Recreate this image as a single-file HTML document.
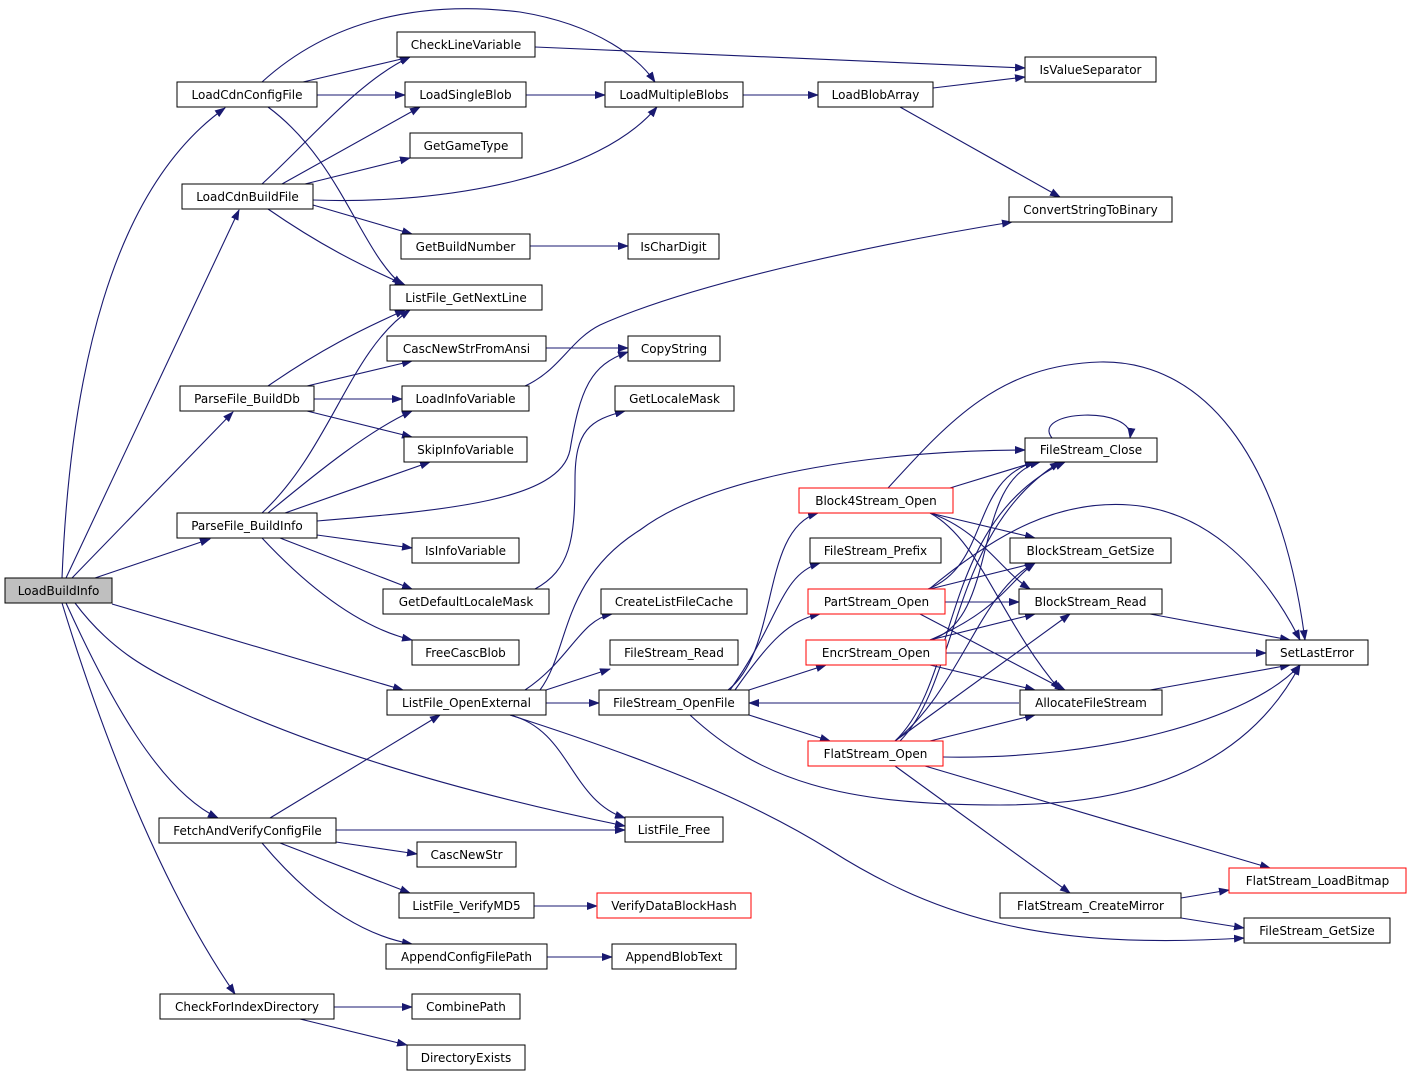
<!DOCTYPE html>
<html><head><meta charset="utf-8"><style>
html,body{margin:0;padding:0;background:#fff}
svg{display:block}
text{font-family:"DejaVu Sans","Liberation Sans",sans-serif;font-size:12px;fill:#000;text-anchor:middle}
.n{fill:#fff;stroke:#000;stroke-width:1}
.r{fill:#fff;stroke:#ff0000;stroke-width:1}
path{fill:none;stroke:#191970;stroke-width:1.1;marker-end:url(#a)}
</style></head><body>
<svg width="1412" height="1077" viewBox="0 0 1412 1077" xmlns="http://www.w3.org/2000/svg">
<defs><marker id="a" markerWidth="11" markerHeight="8" refX="10" refY="4" orient="auto" markerUnits="userSpaceOnUse"><polygon points="0,0 11,4 0,8" fill="#191970"/></marker></defs>
<!-- edges -->
<path d="M62,578 C70,380 110,190 225,108"/>
<path d="M66,578 L239,210"/>
<path d="M72,578 L233,412"/>
<path d="M95,578 L210,539"/>
<path d="M112,604 L403,690"/>
<path d="M75,603 C110,650 150,670 170,680 C300,745 450,790 625,826"/>
<path d="M66,603 C110,700 160,790 218,818"/>
<path d="M62,603 C110,760 170,900 235,994"/>
<path d="M303,82 L410,57"/>
<path d="M317,95 L405,95"/>
<path d="M262,82 C330,20 420,0 520,12 C600,25 640,60 655,82"/>
<path d="M268,107 C340,160 360,250 402,285"/>
<path d="M262,184 C310,140 360,80 410,57"/>
<path d="M282,184 L420,107"/>
<path d="M305,184 L410,158"/>
<path d="M313,200 C450,205 600,175 657,107"/>
<path d="M313,205 L412,234"/>
<path d="M268,209 C320,245 360,265 405,285"/>
<path d="M268,386 C320,350 360,330 405,310"/>
<path d="M307,386 L412,361"/>
<path d="M314,399 L402,399"/>
<path d="M307,411 L412,437"/>
<path d="M262,513 C330,450 350,350 410,310"/>
<path d="M268,513 C320,470 370,430 412,411"/>
<path d="M285,513 L430,462"/>
<path d="M317,521 C450,510 560,500 570,450 C580,390 590,365 628,352"/>
<path d="M317,535 L412,548"/>
<path d="M280,538 L412,589"/>
<path d="M262,538 C320,600 370,630 412,640"/>
<path d="M530,246 L628,246"/>
<path d="M546,348 L628,348"/>
<path d="M525,386 C560,370 570,340 600,325 C700,280 900,240 1012,222"/>
<path d="M535,589 C570,570 575,540 575,480 C575,430 590,420 625,411"/>
<path d="M535,47 L1025,68"/>
<path d="M526,95 L605,95"/>
<path d="M743,95 L818,95"/>
<path d="M933,88 L1025,77"/>
<path d="M900,107 L1060,197"/>
<path d="M540,690 C570,650 560,580 640,530 C720,470 900,450 1025,450"/>
<path d="M525,690 C570,660 580,620 612,614"/>
<path d="M546,690 L610,669"/>
<path d="M546,703 L599,703"/>
<path d="M510,715 C570,730 570,800 625,818"/>
<path d="M510,715 C650,760 750,800 830,850 C940,920 1050,950 1244,938"/>
<path d="M270,818 L440,715"/>
<path d="M336,830 L625,830"/>
<path d="M336,842 L417,854"/>
<path d="M280,843 L410,893"/>
<path d="M262,843 C310,900 360,935 412,944"/>
<path d="M534,906 L597,906"/>
<path d="M547,957 L612,957"/>
<path d="M334,1007 L412,1007"/>
<path d="M300,1019 L407,1045"/>
<path d="M728,690 C780,650 760,530 818,513"/>
<path d="M730,690 C780,620 780,575 820,563"/>
<path d="M735,690 C770,640 790,620 820,614"/>
<path d="M749,690 L826,665"/>
<path d="M749,715 L830,741"/>
<path d="M690,715 C760,780 840,805 1000,805 C1150,805 1250,760 1300,665"/>
<path d="M1019,703 L749,703"/>
<path d="M950,488 L1035,462"/>
<path d="M930,513 L1035,538"/>
<path d="M930,513 C980,530 1000,570 1030,589"/>
<path d="M930,513 C980,540 1000,620 1060,690"/>
<path d="M888,488 C950,420 1000,365 1100,362 C1200,360 1280,450 1305,640"/>
<path d="M1052,438 C1030,410 1135,405 1130,438"/>
<path d="M928,589 C990,565 970,480 1035,462"/>
<path d="M930,589 L1035,563"/>
<path d="M945,602 L1019,602"/>
<path d="M920,614 L1065,690"/>
<path d="M928,590 C1000,530 1060,500 1130,505 C1200,510 1260,560 1300,640"/>
<path d="M930,640 C1000,620 970,480 1040,462"/>
<path d="M930,640 C1000,610 1010,580 1035,563"/>
<path d="M930,640 L1035,614"/>
<path d="M946,653 L1266,653"/>
<path d="M930,665 L1035,690"/>
<path d="M895,741 C960,680 940,520 1065,462"/>
<path d="M900,741 C960,680 950,530 1060,462"/>
<path d="M895,741 C960,690 980,590 1035,563"/>
<path d="M895,741 L1070,614"/>
<path d="M930,741 L1035,715"/>
<path d="M943,757 C1100,760 1250,720 1300,665"/>
<path d="M895,766 L1070,893"/>
<path d="M925,766 L1270,868"/>
<path d="M1150,614 L1290,640"/>
<path d="M1150,690 L1290,665"/>
<path d="M1181,898 L1229,890"/>
<path d="M1181,918 L1244,928"/>
<!-- nodes -->
<rect x="5" y="578" width="107" height="25" fill="#bfbfbf" stroke="#000"/><text x="58.5" y="595">LoadBuildInfo</text>
<rect class="n" x="177" y="82" width="140" height="25"/><text x="247" y="99">LoadCdnConfigFile</text>
<rect class="n" x="182" y="184" width="131" height="25"/><text x="247.5" y="201">LoadCdnBuildFile</text>
<rect class="n" x="180" y="386" width="134" height="25"/><text x="247" y="403">ParseFile_BuildDb</text>
<rect class="n" x="177" y="513" width="140" height="25"/><text x="247" y="530">ParseFile_BuildInfo</text>
<rect class="n" x="159" y="818" width="177" height="25"/><text x="247.5" y="835">FetchAndVerifyConfigFile</text>
<rect class="n" x="160" y="994" width="174" height="25"/><text x="247" y="1011">CheckForIndexDirectory</text>
<rect class="n" x="397" y="32" width="138" height="25"/><text x="466" y="49">CheckLineVariable</text>
<rect class="n" x="405" y="82" width="121" height="25"/><text x="465.5" y="99">LoadSingleBlob</text>
<rect class="n" x="410" y="133" width="112" height="25"/><text x="466" y="150">GetGameType</text>
<rect class="n" x="401" y="234" width="129" height="25"/><text x="465.5" y="251">GetBuildNumber</text>
<rect class="n" x="390" y="285" width="152" height="25"/><text x="466" y="302">ListFile_GetNextLine</text>
<rect class="n" x="387" y="336" width="159" height="25"/><text x="466.5" y="353">CascNewStrFromAnsi</text>
<rect class="n" x="402" y="386" width="127" height="25"/><text x="465.5" y="403">LoadInfoVariable</text>
<rect class="n" x="404" y="437" width="123" height="25"/><text x="465.5" y="454">SkipInfoVariable</text>
<rect class="n" x="412" y="538" width="107" height="25"/><text x="465.5" y="555">IsInfoVariable</text>
<rect class="n" x="383" y="589" width="166" height="25"/><text x="466" y="606">GetDefaultLocaleMask</text>
<rect class="n" x="412" y="640" width="107" height="25"/><text x="465.5" y="657">FreeCascBlob</text>
<rect class="n" x="387" y="690" width="159" height="25"/><text x="466.5" y="707">ListFile_OpenExternal</text>
<rect class="n" x="417" y="842" width="99" height="25"/><text x="466.5" y="859">CascNewStr</text>
<rect class="n" x="399" y="893" width="135" height="25"/><text x="466.5" y="910">ListFile_VerifyMD5</text>
<rect class="n" x="386" y="944" width="161" height="25"/><text x="466.5" y="961">AppendConfigFilePath</text>
<rect class="n" x="412" y="994" width="108" height="25"/><text x="466" y="1011">CombinePath</text>
<rect class="n" x="407" y="1045" width="118" height="25"/><text x="466" y="1062">DirectoryExists</text>
<rect class="n" x="605" y="82" width="138" height="25"/><text x="674" y="99">LoadMultipleBlobs</text>
<rect class="n" x="628" y="234" width="91" height="25"/><text x="673.5" y="251">IsCharDigit</text>
<rect class="n" x="628" y="336" width="92" height="25"/><text x="674" y="353">CopyString</text>
<rect class="n" x="615" y="386" width="119" height="25"/><text x="674.5" y="403">GetLocaleMask</text>
<rect class="n" x="601" y="589" width="146" height="25"/><text x="674" y="606">CreateListFileCache</text>
<rect class="n" x="610" y="640" width="128" height="25"/><text x="674" y="657">FileStream_Read</text>
<rect class="n" x="599" y="690" width="150" height="25"/><text x="674" y="707">FileStream_OpenFile</text>
<rect class="n" x="625" y="817" width="98" height="25"/><text x="674" y="834">ListFile_Free</text>
<rect class="r" x="597" y="893" width="154" height="25"/><text x="674" y="910">VerifyDataBlockHash</text>
<rect class="n" x="612" y="944" width="124" height="25"/><text x="674" y="961">AppendBlobText</text>
<rect class="n" x="818" y="82" width="115" height="25"/><text x="875.5" y="99">LoadBlobArray</text>
<rect class="r" x="799" y="488" width="154" height="25"/><text x="876" y="505">Block4Stream_Open</text>
<rect class="n" x="810" y="538" width="131" height="25"/><text x="875.5" y="555">FileStream_Prefix</text>
<rect class="r" x="808" y="589" width="137" height="25"/><text x="876.5" y="606">PartStream_Open</text>
<rect class="r" x="806" y="640" width="140" height="25"/><text x="876" y="657">EncrStream_Open</text>
<rect class="r" x="808" y="741" width="135" height="25"/><text x="875.5" y="758">FlatStream_Open</text>
<rect class="n" x="1025" y="57" width="131" height="25"/><text x="1090.5" y="74">IsValueSeparator</text>
<rect class="n" x="1009" y="197" width="163" height="25"/><text x="1090.5" y="214">ConvertStringToBinary</text>
<rect class="n" x="1025" y="438" width="132" height="24"/><text x="1091" y="454">FileStream_Close</text>
<rect class="n" x="1010" y="538" width="161" height="25"/><text x="1090.5" y="555">BlockStream_GetSize</text>
<rect class="n" x="1019" y="589" width="143" height="25"/><text x="1090.5" y="606">BlockStream_Read</text>
<rect class="n" x="1020" y="690" width="142" height="25"/><text x="1091" y="707">AllocateFileStream</text>
<rect class="n" x="1000" y="893" width="181" height="25"/><text x="1090.5" y="910">FlatStream_CreateMirror</text>
<rect class="n" x="1266" y="640" width="102" height="25"/><text x="1317" y="657">SetLastError</text>
<rect class="r" x="1229" y="868" width="177" height="25"/><text x="1317.5" y="885">FlatStream_LoadBitmap</text>
<rect class="n" x="1244" y="918" width="146" height="25"/><text x="1317" y="935">FileStream_GetSize</text>
</svg>
</body></html>
